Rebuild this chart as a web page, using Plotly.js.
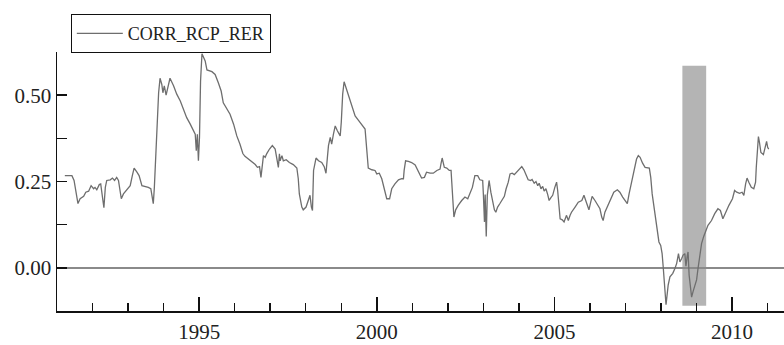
<!DOCTYPE html>
<html>
<head>
<meta charset="utf-8">
<script src="https://cdn.plot.ly/plotly-3.0.1.min.js"></script>
<style>
  html, body { margin: 0; padding: 0; background: #ffffff; }
  #chart { width: 784px; height: 345px; }
</style>
</head>
<body>
<div id="chart"></div>
<script>
// Rolling correlation CORR_RCP_RER, sampled as decimal years
const years = [
  1991.22, 1991.42, 1991.48, 1991.56, 1991.59, 1991.65, 1991.75, 1991.81, 1991.89, 1991.96,
  1992.03, 1992.07, 1992.12, 1992.19, 1992.23, 1992.28, 1992.32, 1992.36, 1992.40, 1992.50,
  1992.56, 1992.62, 1992.68, 1992.73, 1992.78, 1992.81, 1992.87, 1992.97, 1993.06, 1993.12,
  1993.17, 1993.25, 1993.31, 1993.39, 1993.48, 1993.57, 1993.64, 1993.67, 1993.71, 1993.74,
  1993.78, 1993.81, 1993.86, 1993.90, 1993.95, 1993.98, 1994.02, 1994.07, 1994.12, 1994.18,
  1994.28, 1994.37, 1994.47, 1994.56, 1994.65, 1994.75, 1994.84, 1994.89, 1994.92, 1994.95,
  1994.98, 1995.01, 1995.04, 1995.08, 1995.17, 1995.22, 1995.36, 1995.45, 1995.54, 1995.62,
  1995.68, 1995.78, 1995.87, 1995.97, 1996.06, 1996.15, 1996.23, 1996.29, 1996.39, 1996.48,
  1996.58, 1996.64, 1996.70, 1996.74, 1996.77, 1996.81, 1996.86, 1996.90, 1996.98, 1997.06,
  1997.14, 1997.19, 1997.23, 1997.26, 1997.28, 1997.33, 1997.37, 1997.45, 1997.54, 1997.65,
  1997.75, 1997.79, 1997.82, 1997.89, 1997.93, 1998.01, 1998.07, 1998.12, 1998.16, 1998.19,
  1998.22, 1998.26, 1998.29, 1998.36, 1998.45, 1998.52, 1998.57, 1998.61, 1998.64, 1998.69,
  1998.73, 1998.78, 1998.83, 1998.89, 1998.97, 1999.00, 1999.04, 1999.08, 1999.14, 1999.20,
  1999.27, 1999.32, 1999.39, 1999.48, 1999.58, 1999.67, 1999.72, 1999.76, 1999.86, 1999.95,
  2000.00, 2000.07, 2000.14, 2000.18, 2000.23, 2000.28, 2000.36, 2000.42, 2000.51, 2000.61,
  2000.70, 2000.75, 2000.77, 2000.81, 2000.89, 2000.98, 2001.08, 2001.17, 2001.26, 2001.34,
  2001.40, 2001.50, 2001.59, 2001.69, 2001.78, 2001.81, 2001.84, 2001.90, 2001.97, 2002.04,
  2002.09, 2002.11, 2002.14, 2002.17, 2002.22, 2002.29, 2002.39, 2002.48, 2002.56, 2002.62,
  2002.69, 2002.76, 2002.84, 2002.90, 2002.98, 2003.00, 2003.03, 2003.05, 2003.08, 2003.11,
  2003.16, 2003.21, 2003.26, 2003.31, 2003.35, 2003.40, 2003.47, 2003.53, 2003.59, 2003.64,
  2003.70, 2003.75, 2003.81, 2003.87, 2003.94, 2004.01, 2004.08, 2004.14, 2004.20, 2004.26,
  2004.33, 2004.37, 2004.43, 2004.48, 2004.53, 2004.57, 2004.62, 2004.67, 2004.71, 2004.76,
  2004.81, 2004.85, 2004.90, 2004.95, 2005.01, 2005.06, 2005.09, 2005.13, 2005.16, 2005.22,
  2005.27, 2005.34, 2005.39, 2005.44, 2005.48, 2005.58, 2005.67, 2005.77, 2005.83, 2005.88,
  2005.92, 2005.97, 2006.02, 2006.06, 2006.14, 2006.21, 2006.28, 2006.33, 2006.37, 2006.42,
  2006.51, 2006.61, 2006.67, 2006.77, 2006.84, 2006.92, 2006.98, 2007.05, 2007.10, 2007.17,
  2007.24, 2007.31, 2007.36, 2007.41, 2007.48, 2007.55, 2007.67, 2007.71, 2007.75, 2007.81,
  2007.87, 2007.94, 2007.99, 2008.03, 2008.06, 2008.09, 2008.12, 2008.14, 2008.16, 2008.18,
  2008.20, 2008.25, 2008.33, 2008.39, 2008.44, 2008.49, 2008.53, 2008.58, 2008.62, 2008.67,
  2008.70, 2008.74, 2008.76, 2008.79, 2008.83, 2008.86, 2008.90, 2008.95, 2009.00, 2009.04,
  2009.09, 2009.14, 2009.20, 2009.26, 2009.32, 2009.42, 2009.51, 2009.60, 2009.67, 2009.74,
  2009.82, 2009.91, 2010.01, 2010.07, 2010.13, 2010.21, 2010.28, 2010.33, 2010.38, 2010.42,
  2010.47, 2010.54, 2010.61, 2010.66, 2010.68, 2010.71, 2010.74, 2010.77, 2010.81, 2010.88,
  2010.92, 2010.97, 2011.00, 2011.03
];

const corr = [
  0.267, 0.267, 0.253, 0.205, 0.186, 0.200, 0.207, 0.219, 0.222, 0.238,
  0.229, 0.233, 0.226, 0.241, 0.243, 0.205, 0.174, 0.233, 0.253, 0.255,
  0.260, 0.253, 0.262, 0.253, 0.214, 0.200, 0.214, 0.226, 0.238, 0.267,
  0.289, 0.277, 0.267, 0.238, 0.236, 0.233, 0.229, 0.210, 0.186, 0.233,
  0.325, 0.411, 0.507, 0.549, 0.531, 0.507, 0.527, 0.500, 0.527, 0.549,
  0.527, 0.503, 0.483, 0.459, 0.435, 0.416, 0.400, 0.387, 0.339, 0.387,
  0.310, 0.378, 0.541, 0.620, 0.599, 0.573, 0.568, 0.560, 0.536, 0.512,
  0.478, 0.459, 0.445, 0.416, 0.382, 0.358, 0.331, 0.323, 0.315, 0.307,
  0.299, 0.291, 0.293, 0.262, 0.291, 0.325, 0.320, 0.330, 0.344, 0.354,
  0.344, 0.320, 0.291, 0.330, 0.310, 0.325, 0.310, 0.313, 0.305, 0.299,
  0.289, 0.258, 0.214, 0.176, 0.168, 0.176, 0.195, 0.210, 0.176, 0.166,
  0.282, 0.310, 0.318, 0.310, 0.305, 0.293, 0.274, 0.320, 0.354, 0.378,
  0.358, 0.387, 0.411, 0.397, 0.382, 0.421, 0.503, 0.539, 0.520, 0.503,
  0.478, 0.459, 0.440, 0.428, 0.416, 0.402, 0.339, 0.289, 0.284, 0.282,
  0.272, 0.274, 0.258, 0.243, 0.224, 0.200, 0.200, 0.229, 0.243, 0.255,
  0.258, 0.258, 0.282, 0.310, 0.308, 0.305, 0.298, 0.280, 0.260, 0.262,
  0.277, 0.274, 0.274, 0.282, 0.286, 0.303, 0.318, 0.291, 0.289, 0.282,
  0.282, 0.248, 0.186, 0.147, 0.168, 0.181, 0.195, 0.205, 0.200, 0.214,
  0.233, 0.267, 0.267, 0.255, 0.253, 0.212, 0.133, 0.212, 0.091, 0.210,
  0.253, 0.219, 0.190, 0.168, 0.161, 0.176, 0.187, 0.197, 0.207, 0.229,
  0.248, 0.272, 0.274, 0.270, 0.277, 0.284, 0.293, 0.284, 0.267, 0.255,
  0.253, 0.256, 0.245, 0.250, 0.238, 0.245, 0.229, 0.236, 0.222, 0.229,
  0.212, 0.195, 0.203, 0.210, 0.233, 0.248, 0.224, 0.171, 0.142, 0.139,
  0.133, 0.152, 0.137, 0.152, 0.161, 0.176, 0.190, 0.195, 0.210, 0.195,
  0.181, 0.168, 0.190, 0.207, 0.195, 0.181, 0.171, 0.147, 0.137, 0.161,
  0.181, 0.205, 0.219, 0.226, 0.219, 0.205, 0.195, 0.186, 0.214, 0.248,
  0.282, 0.315, 0.325, 0.320, 0.303, 0.291, 0.289, 0.262, 0.214, 0.166,
  0.118, 0.075, 0.065, 0.041, 0.003, -0.050, -0.093, -0.107, -0.088, -0.059,
  -0.050, -0.026, -0.016, -0.002, 0.013, 0.041, 0.017, 0.027, 0.037, 0.041,
  0.005, 0.037, 0.046, -0.021, -0.069, -0.085, -0.069, -0.055, -0.035, -0.002,
  0.037, 0.070, 0.091, 0.109, 0.123, 0.137, 0.157, 0.171, 0.166, 0.142,
  0.161, 0.181, 0.200, 0.224, 0.219, 0.216, 0.219, 0.210, 0.243, 0.260,
  0.248, 0.233, 0.229, 0.248, 0.291, 0.349, 0.380, 0.363, 0.334, 0.328,
  0.344, 0.366, 0.349, 0.344
];

// Shaded episode (x extent in years, y extent in correlation units)
const bandYears = [2008.60, 2009.27];
const bandValues = [-0.110, 0.585];

// Axis extents
const xRange = [1991.0, 2011.46];
const yRange = [-0.125, 0.625];
const seriesName = 'CORR_RCP_RER';

const serif = '"Liberation Serif", "Times New Roman", Times, serif';

const trace = {
  x: years,
  y: corr,
  type: 'scatter',
  mode: 'lines',
  name: seriesName,
  line: { color: '#6e6e6e', width: 1.3 },
  showlegend: true
};

const layout = {
  width: 784,
  height: 345,
  margin: { l: 57, r: 0, t: 52, b: 34, pad: 0 },
  paper_bgcolor: '#ffffff',
  plot_bgcolor: '#ffffff',
  font: { family: serif, color: '#222222', size: 21 },
  showlegend: true,
  legend: {
    x: 0.019, y: 1.146, xanchor: 'left', yanchor: 'top',
    bgcolor: '#ffffff', bordercolor: '#111111', borderwidth: 1,
    font: { family: serif, size: 18, color: '#222222' },
    itemwidth: 46,
    tracegroupgap: 0
  },
  xaxis: {
    range: xRange,
    showgrid: false,
    zeroline: false,
    showline: true,
    linecolor: '#111111',
    linewidth: 1.5,
    ticks: 'inside',
    ticklen: 14,
    tickwidth: 1.5,
    tickcolor: '#111111',
    tick0: 1995,
    dtick: 5,
    tickformat: 'd',
    ticklabelstandoff: 1,
    minor: { dtick: 1, ticks: 'inside', ticklen: 8, tickwidth: 1.5, tickcolor: '#111111', showgrid: false },
    tickfont: { family: serif, size: 21, color: '#222222' },
    fixedrange: true
  },
  yaxis: {
    range: yRange,
    showgrid: false,
    zeroline: true,
    zerolinecolor: '#8a8a8a',
    zerolinewidth: 2,
    showline: true,
    linecolor: '#111111',
    linewidth: 1.5,
    ticks: 'inside',
    ticklen: 10,
    tickwidth: 1.5,
    tickcolor: '#111111',
    tick0: 0,
    dtick: 0.25,
    tickformat: '.2f',
    minor: { dtick: 0.125, ticks: 'inside', ticklen: 10, tickwidth: 1.5, tickcolor: '#111111', showgrid: false },
    tickfont: { family: serif, size: 21, color: '#222222' },
    fixedrange: true
  },
  shapes: [{
    type: 'rect',
    xref: 'x', yref: 'y',
    x0: bandYears[0], x1: bandYears[1],
    y0: bandValues[0], y1: bandValues[1],
    fillcolor: '#b4b4b4',
    line: { width: 0 },
    layer: 'below'
  }]
};

Plotly.newPlot('chart', [trace], layout, { displayModeBar: false, staticPlot: true });
</script>
</body>
</html>
